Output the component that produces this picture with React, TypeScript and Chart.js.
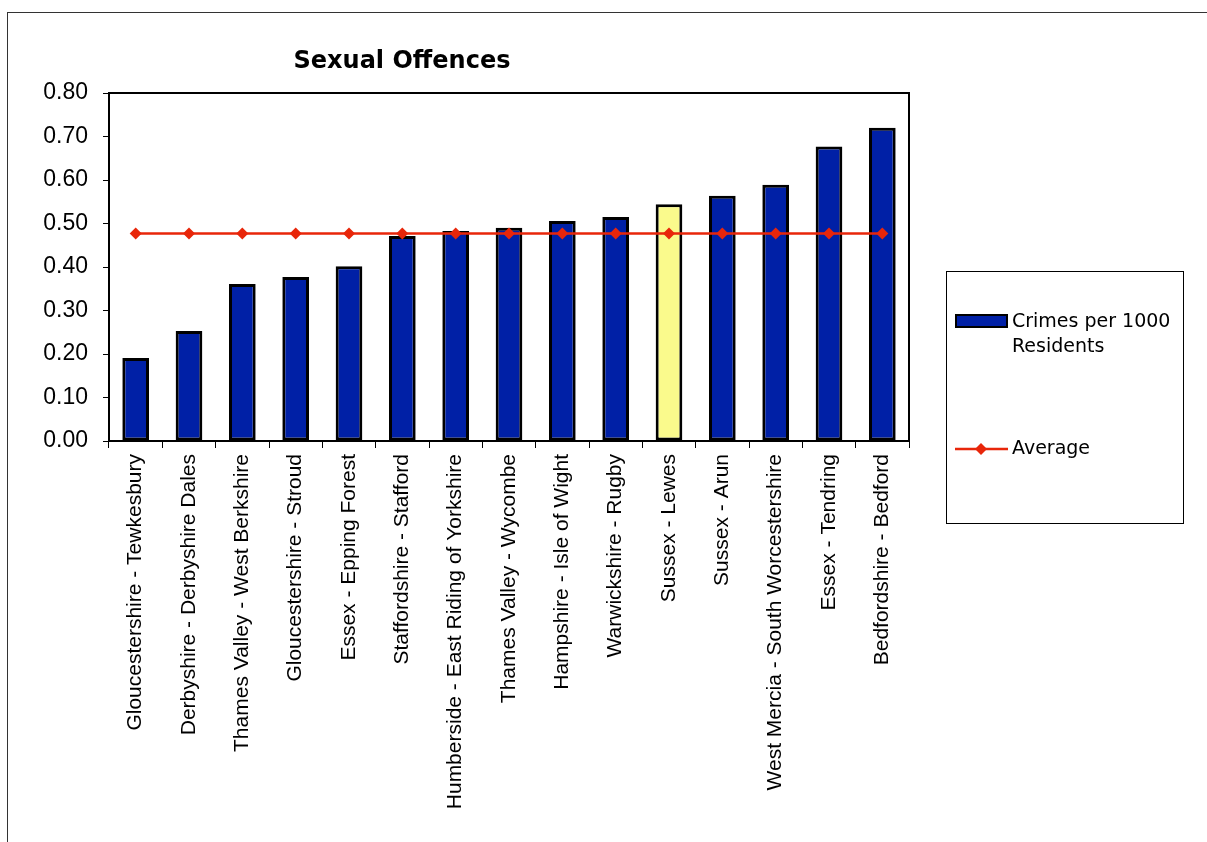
import React, { useEffect, useRef } from "react";
import { Chart, registerables } from "chart.js";

Chart.register(...registerables);

const categories = [
  "Gloucestershire - Tewkesbury",
  "Derbyshire - Derbyshire Dales",
  "Thames Valley - West Berkshire",
  "Gloucestershire - Stroud",
  "Essex - Epping Forest",
  "Staffordshire - Stafford",
  "Humberside - East Riding of Yorkshire",
  "Thames Valley - Wycombe",
  "Hampshire - Isle of Wight",
  "Warwickshire - Rugby",
  "Sussex - Lewes",
  "Sussex - Arun",
  "West Mercia - South Worcestershire",
  "Essex - Tendring",
  "Bedfordshire - Bedford",
];

const crimesPer1000 = [0.191, 0.253, 0.361, 0.377, 0.402, 0.471, 0.483, 0.49, 0.506, 0.515, 0.544, 0.564, 0.589, 0.677, 0.72];
const averageValues = [0.477, 0.477, 0.477, 0.477, 0.477, 0.477, 0.477, 0.477, 0.477, 0.477, 0.477, 0.477, 0.477, 0.477, 0.477];
const highlightCategory = "Sussex - Lewes";

const titleText = "Sexual Offences";
const barLabel = ["Crimes per 1000", "Residents"];
const lineLabel = "Average";

const BLUE = "#0020A6";
const YELLOW = "#FAFA8C";
const RED = "#E8260A";

export default function App() {
  const ref = useRef<HTMLCanvasElement | null>(null);

  useEffect(() => {
    if (!ref.current) return;
    const decor = {
      id: "decor",
      afterDraw(chart: any) {
        const ctx = chart.ctx;
        const a = chart.chartArea;
        ctx.save();
        // outer frame
        ctx.strokeStyle = "#333";
        ctx.lineWidth = 1;
        ctx.strokeRect(7.5, 12.5, 1300, 900);
        // plot border
        ctx.strokeStyle = "#000";
        ctx.lineWidth = 2;
        ctx.strokeRect(a.left, a.top, a.right - a.left, a.bottom - a.top);
        // title
        ctx.fillStyle = "#000";
        ctx.font = "bold 24px 'DejaVu Sans'";
        ctx.textAlign = "center";
        ctx.textBaseline = "middle";
        ctx.fillText(titleText, 402, 62);
        // legend box
        ctx.lineWidth = 1;
        ctx.strokeStyle = "#000";
        ctx.strokeRect(946.5, 271.5, 237, 252);
        // bar swatch
        ctx.fillStyle = BLUE;
        ctx.fillRect(956, 315, 51, 12);
        ctx.lineWidth = 2;
        ctx.strokeRect(956, 315, 51, 12);
        ctx.fillStyle = "#000";
        ctx.font = "19px 'DejaVu Sans'";
        ctx.textAlign = "left";
        ctx.textBaseline = "middle";
        ctx.fillText(barLabel[0], 1012, 322);
        ctx.fillText(barLabel[1], 1012, 347);
        // line swatch
        ctx.strokeStyle = RED;
        ctx.lineWidth = 2.5;
        ctx.beginPath();
        ctx.moveTo(955, 449);
        ctx.lineTo(1008, 449);
        ctx.stroke();
        ctx.fillStyle = RED;
        ctx.beginPath();
        ctx.moveTo(981, 443);
        ctx.lineTo(987, 449);
        ctx.lineTo(981, 455);
        ctx.lineTo(975, 449);
        ctx.closePath();
        ctx.fill();
        ctx.fillStyle = "#000";
        ctx.fillText(lineLabel, 1012, 449);
        ctx.restore();
      },
    };

    const chart = new Chart(ref.current, {
      type: "bar",
      data: {
        labels: categories,
        datasets: [
          {
            type: "line",
            label: lineLabel,
            data: averageValues,
            borderColor: RED,
            backgroundColor: RED,
            borderWidth: 2.5,
            pointStyle: "rectRot",
            pointRadius: 6,
            pointBorderWidth: 0,
            pointBackgroundColor: RED,
            order: 0,
          } as any,
          {
            type: "bar",
            label: barLabel.join(" "),
            data: crimesPer1000,
            backgroundColor: categories.map((c) => (c === highlightCategory ? YELLOW : BLUE)),
            borderColor: "#000",
            borderWidth: 3,
            borderSkipped: false,
            barPercentage: 0.5,
            categoryPercentage: 1,
            order: 1,
          },
        ],
      },
      options: {
        animation: false,
        responsive: false,
        maintainAspectRatio: false,
        layout: { padding: { left: 0, top: 93, right: 298, bottom: 0 } },
        plugins: {
          legend: { display: false },
          title: { display: false },
          tooltip: { enabled: false },
        },
        scales: {
          x: {
            offset: true,
            grid: {
              display: true,
              offset: true,
              drawOnChartArea: false,
              drawTicks: true,
              tickLength: 7,
              color: "#000",
              lineWidth: 1,
            },
            border: { display: true, color: "#000", width: 2 },
            ticks: {
              color: "#000",
              font: { family: "'Liberation Sans', Arial", size: 21 },
              minRotation: 90,
              maxRotation: 90,
              autoSkip: false,
              padding: 6,
            },
            afterFit(scale: any) {
              scale.height = 842 - 441;
            },
          },
          y: {
            min: 0,
            max: 0.8,
            ticks: {
              stepSize: 0.1,
              color: "#000",
              font: { family: "'Liberation Sans', Arial", size: 23 },
              padding: 15,
              callback: (v: any) => Number(v).toFixed(2),
            },
            grid: {
              display: true,
              drawOnChartArea: false,
              drawTicks: true,
              tickLength: 6,
              color: "#000",
              lineWidth: 1,
            },
            border: { display: true, color: "#000", width: 2 },
            afterFit(scale: any) {
              scale.width = 109;
            },
          },
        },
      },
      plugins: [decor],
    } as any);
    return () => chart.destroy();
  }, []);

  return (
    <div style={{ position: "fixed", left: 0, top: 0, width: 1207, height: 842, background: "#fff" }}>
      <canvas ref={ref} width={1207} height={842} style={{ display: "block" }} />
    </div>
  );
}
